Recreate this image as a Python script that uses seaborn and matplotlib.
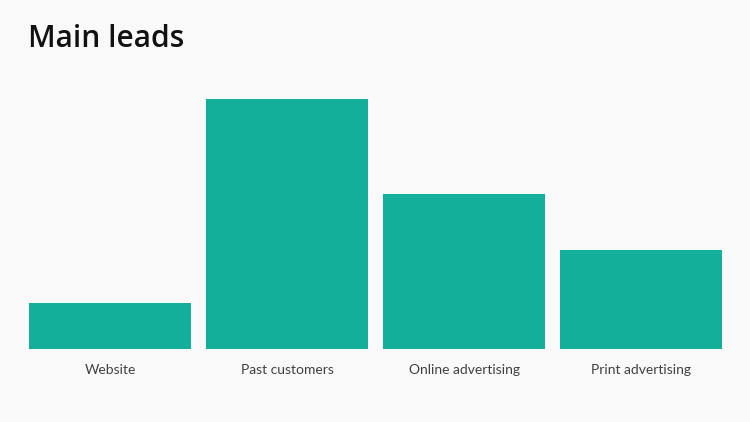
import matplotlib
matplotlib.use("Agg")
import matplotlib.pyplot as plt
import seaborn as sns
import pandas as pd

categories = ["Website", "Past customers", "Online advertising", "Print advertising"]
values = [18.4, 100, 62, 39.6]

bar_color = "#13AF9A"
bg = "#F9F9F9"

sns.set_theme(style="white")
plt.rcParams['font.family'] = ['Lato', 'DejaVu Sans']

df = pd.DataFrame({"category": categories, "value": values})

fig = plt.figure(figsize=(7.5, 4.22), dpi=100, facecolor=bg)
ax = fig.add_axes([0.0287, 0.173, 0.944, 0.592])
ax.set_facecolor(bg)
sns.barplot(data=df, x="category", y="value", color=bar_color, saturation=1,
            width=0.92, ax=ax, edgecolor="none")
ax.set_xlim(-0.5, 3.5)
ax.set_ylim(0, 100)
for s in ax.spines.values():
    s.set_visible(False)
ax.set_yticks([])
ax.set_xlabel("")
ax.set_ylabel("")
ax.tick_params(axis="x", length=0, pad=11, labelsize=10, labelcolor="#404040")

fig.text(0.037, 0.907, "Main leads", fontsize=21.5, fontweight="semibold", color="#111111",
         ha="left", va="center", family=["Open Sans", "DejaVu Sans"])

fig.savefig("out.png", dpi=100, facecolor=bg)
